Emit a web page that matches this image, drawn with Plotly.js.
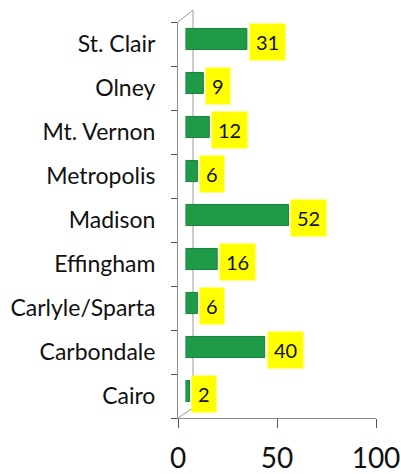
<!DOCTYPE html>
<html>
<head>
<meta charset="utf-8">
<script src="https://cdn.plot.ly/plotly-3.0.1.min.js"></script>
<style>
  html, body { margin: 0; padding: 0; background: #ffffff; }
  #chart { width: 401px; height: 474px; }
</style>
</head>
<body>
<div id="chart"></div>
<script>
// categorias de abajo hacia arriba (como en el grafico original)
const sitios = ['Cairo', 'Carbondale', 'Carlyle/Sparta', 'Effingham', 'Madison',
                'Metropolis', 'Mt. Vernon', 'Olney', 'St. Clair'];
const valores = [2, 40, 6, 16, 52, 6, 12, 9, 31];
const ticksX = [0, 50, 100];

const W = 401, H = 474;
const margen = { l: 178, r: 25, t: 17, b: 56 };
const anchoPlot = W - margen.l - margen.r;   // 198
const altoPlot = H - margen.t - margen.b;    // 401
const pxPorUnidad = anchoPlot / 100;

// desplazamiento del plano de las barras (efecto 3D)
const dx = 7.5, dy = 5;
// pared trasera
const px = 15, py = 10;

const barras = {
    type: 'bar',
    orientation: 'h',
    x: valores,
    y: sitios,
    xaxis: 'x2',
    yaxis: 'y2',
    width: 0.48,
    marker: { color: '#1f9a47', line: { color: '#17803a', width: 1 } },
    hoverinfo: 'skip',
    showlegend: false
};

// eje frontal solo para ticks y etiquetas
const ejeFrontal = {
    type: 'scatter',
    mode: 'markers',
    x: [0],
    y: [sitios[0]],
    marker: { opacity: 0 },
    hoverinfo: 'skip',
    showlegend: false
};

const etiquetas = valores.map((v, i) => ({
    x: v,
    y: sitios[i],
    xref: 'x2',
    yref: 'y2',
    text: String(v),
    showarrow: false,
    xanchor: 'left',
    xshift: 2,
    yshift: -3,
    bgcolor: '#ffff00',
    borderpad: 6,
    font: { family: 'Lato, sans-serif', size: 20, color: '#111122' }
}));

const pared = '#9a9a9a';
const shapes = [
    // linea vertical trasera
    { type: 'line', xref: 'paper', yref: 'paper', layer: 'below',
      x0: px / anchoPlot, x1: px / anchoPlot, y0: py / altoPlot, y1: 1 + 7 / altoPlot,
      line: { color: pared, width: 1 } },
    // diagonal inferior
    { type: 'line', xref: 'paper', yref: 'paper', layer: 'below',
      x0: 0, x1: px / anchoPlot, y0: 0, y1: py / altoPlot,
      line: { color: pared, width: 1 } },
    // diagonal superior
    { type: 'line', xref: 'paper', yref: 'paper', layer: 'below',
      x0: 0, x1: px / anchoPlot, y0: 1 - dy / altoPlot, y1: 1 + 7 / altoPlot,
      line: { color: pared, width: 1 } }
];

const layout = {
    width: W,
    height: H,
    margin: margen,
    paper_bgcolor: '#ffffff',
    plot_bgcolor: 'rgba(0,0,0,0)',
    font: { family: 'Lato, sans-serif', color: '#111111' },
    xaxis: {
        domain: [0, 1],
        anchor: 'y',
        range: [0, 100],
        tickvals: ticksX,
        ticktext: ticksX.map(String),
        showgrid: false,
        zeroline: false,
        showline: true,
        linecolor: '#8a8a8a',
        linewidth: 1,
        ticks: 'outside',
        ticklen: 9,
        tickcolor: '#555555',
        ticklabelstandoff: 6,
        tickfont: { family: 'Lato, sans-serif', size: 28, color: '#111111' },
        fixedrange: true
    },
    yaxis: {
        domain: [0, 1 - dy / altoPlot],
        anchor: 'x',
        type: 'category',
        categoryarray: sitios,
        range: [-0.5, sitios.length - 0.5],
        showgrid: false,
        showline: true,
        linecolor: '#8a8a8a',
        linewidth: 1,
        ticks: 'outside',
        tickson: 'boundaries',
        ticklen: 6,
        tickcolor: '#555555',
        ticklabelstandoff: 17,
        tickfont: { family: 'Lato, sans-serif', size: 23, color: '#111111' },
        fixedrange: true
    },
    xaxis2: {
        anchor: 'y2',
        domain: [dx / anchoPlot, 1],
        range: [0, (anchoPlot - dx) / pxPorUnidad],
        visible: false,
        fixedrange: true
    },
    yaxis2: {
        anchor: 'x2',
        domain: [dy / altoPlot, 1],
        type: 'category',
        categoryarray: sitios,
        range: [-0.5, sitios.length - 0.5],
        visible: false,
        fixedrange: true
    },
    shapes: shapes,
    annotations: etiquetas,
    bargap: 0.5
};

Plotly.newPlot('chart', [ejeFrontal, barras], layout, { displayModeBar: false, staticPlot: true });
</script>
</body>
</html>
